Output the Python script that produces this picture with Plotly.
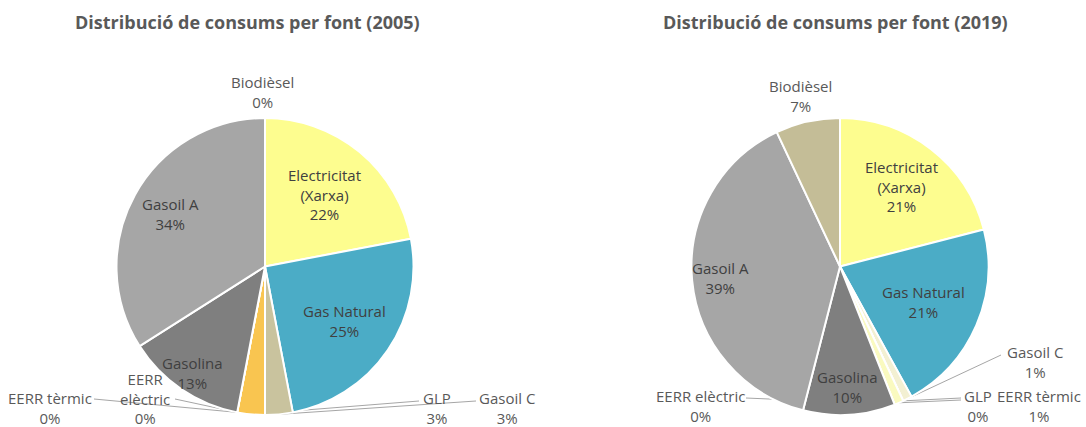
import math
import plotly.graph_objects as go

W, H = 1086, 427

# ---- data ----
categories = ["Electricitat (Xarxa)", "Gas Natural", "Gasoil C", "GLP", "EERR tèrmic",
              "EERR elèctric", "Gasolina", "Gasoil A", "Biodièsel"]
label_text = ["Electricitat<br>(Xarxa)", "Gas Natural", "Gasoil C", "GLP", "EERR tèrmic",
              "EERR<br>elèctric", "Gasolina", "Gasoil A", "Biodièsel"]
label_text_2019 = ["Electricitat<br>(Xarxa)", "Gas Natural", "Gasoil C", "GLP", "EERR tèrmic",
                   "EERR elèctric", "Gasolina", "Gasoil A", "Biodièsel"]
values_2005 = [22, 25, 3, 3, 0, 0, 13, 34, 0]
values_2019 = [21, 21, 1, 0, 1, 0, 10, 39, 7]
titles = ["Distribució de consums per font (2005)", "Distribució de consums per font (2019)"]

# ---- style ----
colors_2005 = ["#fdfd8f", "#4bacc6", "#c9c39e", "#f9c550", "#fff2cc", "#e6e6e6",
               "#7f7f7f", "#a6a6a6", "#c4bd97"]
colors_2019 = ["#fdfd8f", "#4bacc6", "#f3f0d2", "#f9c550", "#fafac0", "#e6e6e6",
               "#7f7f7f", "#a6a6a6", "#c4bd97"]

# pie boxes in pixels (left, top, right, bottom)
boxes = [(115, 118, 415, 415), (690, 118, 990, 415)]
title_x = [247, 835]

# inside label radial fraction (None = outside label)
inside_r_2005 = [0.63, 0.65, None, None, None, None, 0.87, 0.73, None]
inside_r_2019 = [0.68, 0.61, None, None, None, None, 0.81, 0.81, None]
# outside label positions (pixels: center x, center y, leader-line start x, y)
outside_2005 = {2: (507, 408, 476, 401), 3: (437, 408, 419, 401),
                4: (50, 408, 94, 399), 5: (145, 398, 175, 399),
                8: (262, 92, None, None)}
outside_2019 = {2: (1035, 362, 1001, 355), 3: (978, 406, 961, 398),
                4: (1039, 406, 961, 400), 5: (700, 406, 746, 398),
                8: (800, 96, None, None)}

FONT = "Open Sans"
TXT_IN = "#404040"
TXT_OUT = "#595959"
LBL_SIZE = 15


def px(x, y):
    return x / W, 1 - y / H


fig = go.Figure()
annotations = []
shapes = []

charts = [
    (values_2005, colors_2005, inside_r_2005, outside_2005, label_text),
    (values_2019, colors_2019, inside_r_2019, outside_2019, label_text_2019),
]

for k, (vals, cols, rfrac, outside, ltxt) in enumerate(charts):
    l, t, r, b = boxes[k]
    x0, y1 = px(l, t)
    x1, y0 = px(r, b)
    fig.add_trace(go.Pie(
        labels=categories, values=vals, sort=False, direction="clockwise", rotation=0,
        marker=dict(colors=cols, line=dict(color="white", width=2)),
        textinfo="none", hoverinfo="label+percent", showlegend=False,
        domain=dict(x=[x0, x1], y=[y0, y1]),
    ))
    cx, cy = (l + r) / 2, (t + b) / 2
    R = min(r - l, b - t) / 2
    total = sum(vals)
    cum = 0
    for i, v in enumerate(vals):
        mid = (cum + v / 2) / total * 2 * math.pi
        cum += v
        pct = f"{round(v / total * 100)}%"
        if rfrac[i] is not None:
            lx = cx + rfrac[i] * R * math.sin(mid)
            ly = cy - rfrac[i] * R * math.cos(mid)
            ax, ay = px(lx, ly)
            annotations.append(dict(x=ax, y=ay, xref="paper", yref="paper", showarrow=False,
                                    xanchor="center", yanchor="middle",
                                    text=f"{ltxt[i]}<br>{pct}", align="center",
                                    font=dict(family=FONT, size=LBL_SIZE, color=TXT_IN)))
        elif i in outside:
            ox, oy, sx, sy = outside[i]
            ax, ay = px(ox, oy)
            annotations.append(dict(x=ax, y=ay, xref="paper", yref="paper", showarrow=False,
                                    xanchor="center", yanchor="middle",
                                    text=f"{ltxt[i]}<br>{pct}", align="center",
                                    font=dict(family=FONT, size=LBL_SIZE, color=TXT_OUT)))
            if sx is not None:
                ex = cx + R * math.sin(mid)
                ey = cy - R * math.cos(mid)
                p0 = px(sx, sy)
                p1 = px(ex, ey)
                shapes.append(dict(type="line", xref="paper", yref="paper",
                                   x0=p0[0], y0=p0[1], x1=p1[0], y1=p1[1],
                                   line=dict(color="#a6a6a6", width=1), layer="below"))
    tx, ty = px(title_x[k], 22)
    annotations.append(dict(x=tx, y=ty, xref="paper", yref="paper", showarrow=False,
                            xanchor="center", yanchor="middle",
                            text=f"<b>{titles[k]}</b>",
                            font=dict(family=FONT, size=18, color=TXT_OUT)))

fig.update_layout(
    width=W, height=H, margin=dict(l=0, r=0, t=0, b=0),
    paper_bgcolor="white", plot_bgcolor="white",
    annotations=annotations, shapes=shapes,
)
fig.write_html("out.html", config={"displayModeBar": False},
               post_script="document.body.style.margin='0';")
